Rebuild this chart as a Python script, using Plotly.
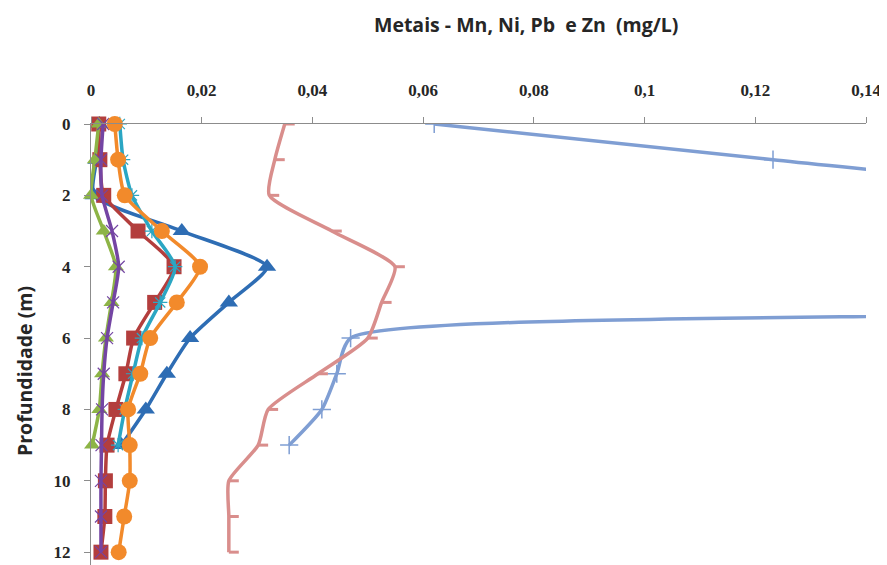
import plotly.graph_objects as go

depth_full = [0, 1, 2, 3, 4, 5, 6, 7, 8, 9, 10, 11, 12]
depth_short = [0, 1, 2, 3, 4, 5, 6, 7, 8, 9]

# light blue (+ markers) - values at 2..5 are beyond the axis range
mn_lightblue = [0.0620, 0.1232, 0.180, 0.200, 0.220, 0.210, 0.0469, 0.0444, 0.0417, 0.0358]
# pink (dash markers)
pink_series = [0.0350, 0.0332, 0.0322, 0.0435, 0.0549, 0.0525, 0.0500, 0.0410, 0.0320, 0.0302, 0.0249, 0.0249, 0.0249]
# dark blue triangles
blue_tri = [0.0015, 0.0010, 0.0005, 0.0164, 0.0318, 0.0249, 0.0179, 0.0137, 0.0099, 0.0055]
# red squares
red_sq = [0.0014, 0.0016, 0.0023, 0.0085, 0.0150, 0.0115, 0.0077, 0.0063, 0.0045, 0.0029, 0.0026, 0.0025, 0.0018]
# green triangles
green_tri = [0.0014, 0.0007, 0.0000, 0.0023, 0.0045, 0.0037, 0.0027, 0.0020, 0.0015, 0.0002]
# purple line (x markers)
purple_x = [0.0022, 0.0018, 0.0020, 0.0038, 0.0050, 0.0040, 0.0029, 0.0023, 0.0020, 0.0019, 0.0018, 0.0018, 0.0018]
# cyan line (star markers)
cyan_star = [0.0052, 0.0058, 0.0074, 0.0110, 0.0152, 0.0125, 0.0092, 0.0076, 0.0061, 0.0049]
# orange circles
orange_circ = [0.0043, 0.0049, 0.0061, 0.0128, 0.0197, 0.0155, 0.0107, 0.0089, 0.0067, 0.0070, 0.0070, 0.0060, 0.0050]

x_tickvals = [0, 0.02, 0.04, 0.06, 0.08, 0.1, 0.12, 0.14]
x_ticktext = ["0", "0,02", "0,04", "0,06", "0,08", "0,1", "0,12", "0,14"]
y_tickvals = [0, 2, 4, 6, 8, 10, 12]
y_ticktext = ["0", "2", "4", "6", "8", "10", "12"]

SM = 0.6

fig = go.Figure()

fig.add_trace(go.Scatter(
    x=mn_lightblue, y=depth_short, mode="lines+markers",
    line=dict(color="#7F9ED3", width=3.5, shape="spline", smoothing=SM),
    marker=dict(symbol="cross-thin-open", size=13, line=dict(color="#7F9ED3", width=1.5)),
))
fig.add_trace(go.Scatter(
    x=pink_series, y=depth_full, mode="lines",
    line=dict(color="#D98E8C", width=3.5, shape="spline", smoothing=SM),
    error_x=dict(type="constant", value=0.0018, valueminus=0, symmetric=False,
                 width=0, thickness=3, color="#D98E8C"),
))
fig.add_trace(go.Scatter(
    x=blue_tri, y=depth_short, mode="lines+markers", cliponaxis=False,
    line=dict(color="#2E6DB4", width=3.5, shape="spline", smoothing=SM),
    marker=dict(symbol="triangle-up", size=16, color="#2E6DB4"),
))
fig.add_trace(go.Scatter(
    x=red_sq, y=depth_full, mode="lines+markers", cliponaxis=False,
    line=dict(color="#B33E3D", width=3.5, shape="spline", smoothing=SM),
    marker=dict(symbol="square", size=15, color="#B33E3D"),
))
fig.add_trace(go.Scatter(
    x=green_tri, y=depth_short, mode="lines+markers", cliponaxis=False,
    line=dict(color="#8DB446", width=3.5, shape="spline", smoothing=SM),
    marker=dict(symbol="triangle-up", size=14, color="#8DB446"),
))
fig.add_trace(go.Scatter(
    x=purple_x, y=depth_full, mode="lines+markers", cliponaxis=False,
    line=dict(color="#7445A3", width=3.5, shape="spline", smoothing=SM),
    marker=dict(symbol="x-thin-open", size=12, line=dict(color="#A897C9", width=1.2)),
))
fig.add_trace(go.Scatter(
    x=cyan_star, y=depth_short, mode="lines+markers", cliponaxis=False,
    line=dict(color="#2BA6C3", width=3.5, shape="spline", smoothing=SM),
    marker=dict(symbol="asterisk-open", size=12, line=dict(color="#8FCFE0", width=1.2)),
))
fig.add_trace(go.Scatter(
    x=orange_circ, y=depth_full, mode="lines+markers", cliponaxis=False,
    line=dict(color="#F28A2B", width=3.5, shape="spline", smoothing=SM),
    marker=dict(symbol="circle", size=16, color="#F28A2B"),
))

serif_bold = dict(family="'Liberation Serif', 'DejaVu Serif', serif", size=17, color="#262626", weight="bold")
title_font = dict(family="'Open Sans', Lato, sans-serif", size=19.5, color="#262626", weight="bold")

# the page has an 8px body margin, so the figure is offset by (8, 8)
fig.update_layout(
    width=879, height=557,
    margin=dict(l=83, r=21, t=116, b=0),
    paper_bgcolor="white", plot_bgcolor="white",
    showlegend=False,
    xaxis=dict(
        side="top", range=[0, 0.14], tickvals=x_tickvals, ticktext=x_ticktext,
        showgrid=False, zeroline=False, showline=True, linecolor="#8C8C8C", linewidth=1,
        ticks="outside", ticklen=6, tickcolor="#8C8C8C", tickfont=serif_bold,
        ticklabelstandoff=14, automargin=False,
    ),
    yaxis=dict(
        range=[12.36, 0], tickvals=y_tickvals, ticktext=y_ticktext,
        showgrid=False, zeroline=False, showline=True, linecolor="#8C8C8C", linewidth=1,
        ticks="outside", ticklen=6, tickcolor="#8C8C8C", tickfont=serif_bold,
        ticklabelstandoff=10, automargin=False,
    ),
    annotations=[
        dict(text="Metais - Mn, Ni, Pb\u00a0 e Zn\u00a0 (mg/L)", xref="paper", yref="paper",
             x=(526 - 91) / 775, y=1 + (124 - 24) / 441, xanchor="center", yanchor="middle",
             showarrow=False, font=title_font),
        dict(text="Profundidade (m)", xref="paper", yref="paper", textangle=-90,
             x=(24 - 91) / 775, y=1 - (371 - 124) / 441, xanchor="center", yanchor="middle",
             showarrow=False, font=title_font),
    ],
)

fig.write_html("out.html")
